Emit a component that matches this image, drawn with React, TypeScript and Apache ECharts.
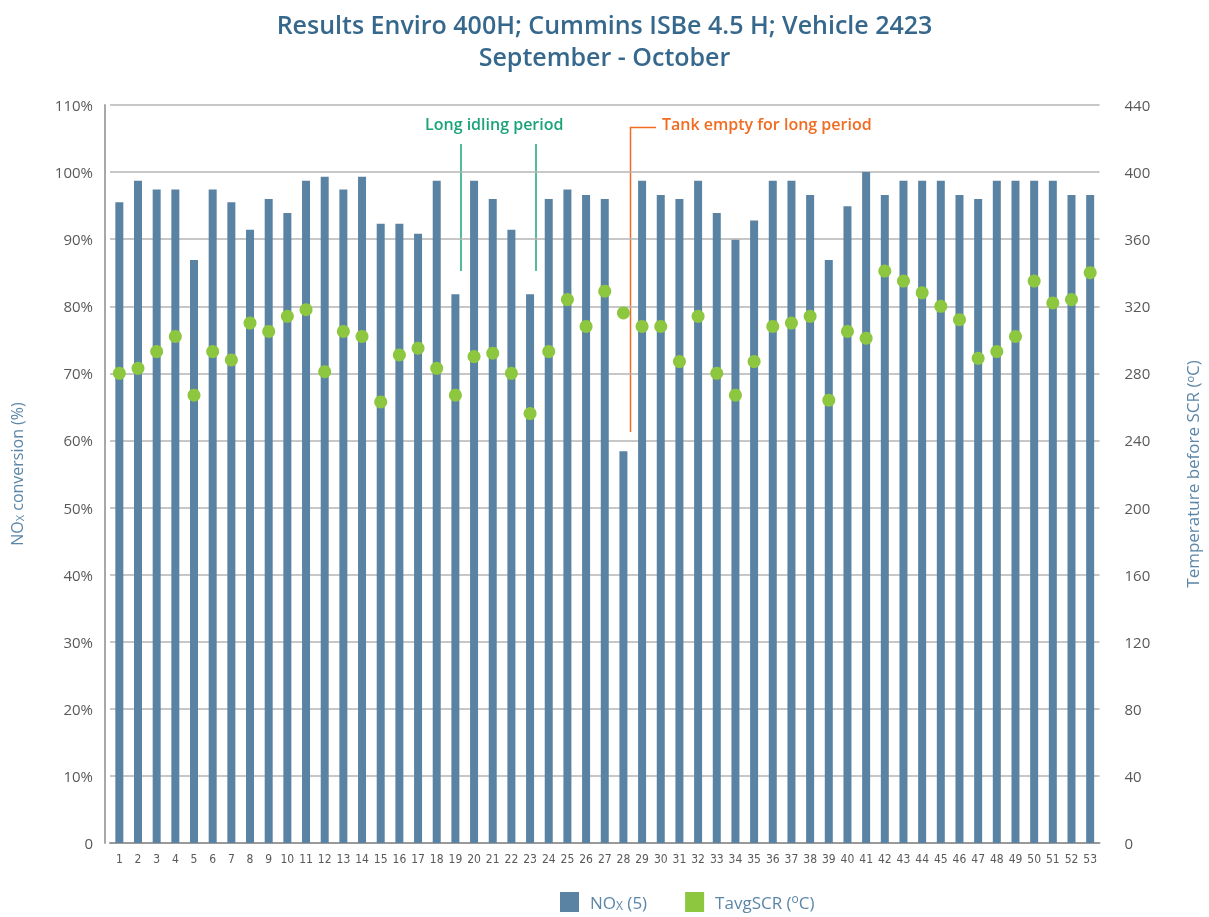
import React, { useEffect, useRef } from "react";
import * as echarts from "echarts";

const categories = Array.from({ length: 53 }, (_, i) => String(i + 1));
const noxConversion = [
  95.5, 98.7, 97.4, 97.4, 86.9, 97.4, 95.5, 91.4, 96.0, 93.9,
  98.7, 99.3, 97.4, 99.3, 92.3, 92.3, 90.8, 98.7, 81.8, 98.7,
  96.0, 91.4, 81.8, 96.0, 97.4, 96.6, 96.0, 58.4, 98.7, 96.6,
  96.0, 98.7, 93.9, 89.9, 92.8, 98.7, 98.7, 96.6, 86.9, 94.9,
  100.0, 96.6, 98.7, 98.7, 98.7, 96.6, 96.0, 98.7, 98.7, 98.7,
  98.7, 96.6, 96.6,
];
const tavgScr = [
  280, 283, 293, 302, 267, 293, 288, 310, 305, 314,
  318, 281, 305, 302, 263, 291, 295, 283, 267, 290,
  292, 280, 256, 293, 324, 308, 329, 316, 308, 308,
  287, 314, 280, 267, 287, 308, 310, 314, 264, 305,
  301, 341, 335, 328, 320, 312, 289, 293, 302, 335,
  322, 324, 340,
];
const titleLines = ["Results Enviro 400H; Cummins ISBe 4.5 H; Vehicle 2423", "September - October"];

const BAR = "#5a83a3";
const DOT = "#8dc63f";
const GREEN = "#1aa37a";
const ORANGE = "#f26b21";
const AXIS_NAME = "#5b86a8";
const FONT = "'Open Sans', Lato, sans-serif";

export default function App() {
  const ref = useRef<HTMLDivElement>(null);
  useEffect(() => {
    if (!ref.current) return;
    const chart = echarts.init(ref.current, null, { renderer: "svg" });
    chart.setOption({
      animation: false,
      textStyle: { fontFamily: FONT },
      title: {
        text: titleLines.join("\n"),
        left: "center",
        top: 3,
        textStyle: { fontSize: 25, fontWeight: 600, color: "#36688d", lineHeight: 32, fontFamily: FONT },
      },
      grid: { left: 110, right: 96, top: 105, bottom: 74, containLabel: false },
      legend: {
        bottom: 0,
        left: 555,
        itemWidth: 19,
        itemHeight: 20,
        itemGap: 38,
        icon: "rect",
        textStyle: {
          fontSize: 17,
          color: AXIS_NAME,
          fontFamily: FONT,
          rich: {
            a: { fontSize: 17, color: AXIS_NAME, padding: [0, 0, 0, 6] },
            sub: { fontSize: 12, color: AXIS_NAME, verticalAlign: "bottom", padding: [6, 0, 0, 0] },
            sup: { fontSize: 12, color: AXIS_NAME, verticalAlign: "top", padding: [0, 0, 7, 0] },
            n: { fontSize: 17, color: AXIS_NAME },
          },
        },
        formatter: (name: string) =>
          name === "NOx (5)" ? "{a|NO}{sub|X}{n| (5)}" : "{a|TavgSCR (}{sup|o}{n|C)}",
      },
      xAxis: {
        type: "category",
        data: categories,
        boundaryGap: true,
        axisLine: { lineStyle: { color: "#9a9a9a", width: 2 } },
        axisTick: { show: false },
        axisLabel: { color: "#595959", fontSize: 12, margin: 10, interval: 0, fontFamily: "'Liberation Sans Narrow', 'DejaVu Sans Condensed', sans-serif" },
      },
      yAxis: [
        {
          type: "value",
          min: 0,
          max: 110,
          interval: 10,
          offset: 5,
          name: "{n|NO}{sub|X}{n| conversion (%)}",
          nameLocation: "middle",
          nameGap: 80,
          nameRotate: 90,
          nameTextStyle: {
            color: AXIS_NAME,
            fontSize: 16,
            rich: {
              n: { fontSize: 16, color: AXIS_NAME },
              sub: { fontSize: 11, color: AXIS_NAME, verticalAlign: "bottom", padding: [5, 0, 0, 0] },
            },
          },
          axisLine: { show: true, lineStyle: { color: "#a8a8a8", width: 2 } },
          axisTick: { show: false },
          axisLabel: {
            color: "#595959",
            fontSize: 15,
            margin: 12,
            formatter: (v: number) => (v === 0 ? "0" : v + "%"),
          },
          splitLine: { lineStyle: { color: "#b5b5b5", width: 1.5 } },
        },
        {
          type: "value",
          min: 0,
          max: 440,
          interval: 40,
          name: "{n|Temperature before SCR (}{sup|o}{n|C)}",
          nameLocation: "middle",
          nameGap: 84,
          nameRotate: 90,
          nameTextStyle: {
            color: AXIS_NAME,
            fontSize: 17,
            rich: {
              n: { fontSize: 17, color: AXIS_NAME },
              sup: { fontSize: 11, color: AXIS_NAME, verticalAlign: "top", padding: [0, 0, 7, 0] },
            },
          },
          axisLine: { show: false },
          axisTick: { show: false },
          axisLabel: { color: "#595959", fontSize: 15, margin: 25 },
          splitLine: { show: false },
        },
      ],
      series: [
        {
          name: "NOx (5)",
          type: "bar",
          yAxisIndex: 0,
          data: noxConversion,
          barWidth: 8,
          itemStyle: { color: BAR },
        },
        {
          name: "TavgSCR (oC)",
          type: "scatter",
          yAxisIndex: 1,
          data: tavgScr,
          symbol: "circle",
          symbolSize: 13,
          itemStyle: { color: DOT, opacity: 1 },
          z: 5,
        },
      ],
      graphic: [
        {
          type: "text",
          left: 425,
          top: 116,
          style: { text: "Long idling period", fill: GREEN, fontSize: 16, fontWeight: 600, fontFamily: FONT },
        },
        { type: "line", shape: { x1: 461, y1: 144, x2: 461, y2: 271 }, style: { stroke: GREEN, lineWidth: 1.5 } },
        { type: "line", shape: { x1: 536, y1: 144, x2: 536, y2: 271 }, style: { stroke: GREEN, lineWidth: 1.5 } },
        {
          type: "text",
          left: 662,
          top: 116,
          style: { text: "Tank empty for long period", fill: ORANGE, fontSize: 16, fontWeight: 600, fontFamily: FONT },
        },
        { type: "polyline", shape: { points: [[656, 127.5], [630.5, 127.5], [630.5, 432]] }, style: { stroke: ORANGE, lineWidth: 1.5, fill: "none" } },
      ],
    });
    return () => chart.dispose();
  }, []);
  return <div ref={ref} style={{ position: "fixed", left: 0, top: 0, width: 1209, height: 917 }} />;
}
